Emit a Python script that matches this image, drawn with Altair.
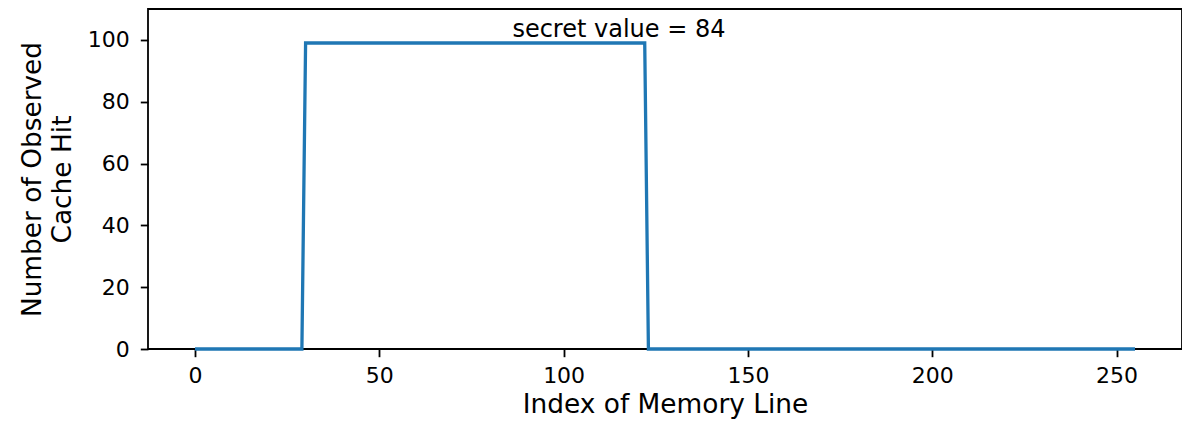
import altair as alt
import pandas as pd

# Breakpoints of the step-shaped curve
index_of_line = [0, 29, 30, 122, 123, 255]
cache_hits = [0, 0, 99, 99, 0, 0]

annot_x = [115]
annot_y = [101]
annot_text = ["secret value = 84"]

x_ticks = [0, 50, 100, 150, 200, 250]
y_ticks = [0, 20, 40, 60, 80, 100]

df = pd.DataFrame({"idx": index_of_line, "hits": cache_hits})
df_t = pd.DataFrame({"x": annot_x, "y": annot_y, "t": annot_text})

FONT = "DejaVu Sans"

xs = alt.Scale(domain=[-12.75, 267.75], nice=False, zero=False)
ys = alt.Scale(domain=[0, 110], nice=False, zero=False)

line = alt.Chart(df).mark_line(color="#1f77b4", strokeWidth=3.3, clip=False).encode(
    x=alt.X("idx:Q", scale=xs,
            axis=alt.Axis(values=x_ticks, title="Index of Memory Line",
                          labelBaseline="alphabetic", labelPadding=26,
                          titleBaseline="alphabetic", titleY=63.5)),
    y=alt.Y("hits:Q", scale=ys,
            axis=alt.Axis(values=y_ticks, title=["Number of Observed", "Cache Hit"],
                          labelPadding=11, titleBaseline="alphabetic",
                          titleLineHeight=29.5, titleX=-107.5, titleY=170,
                          titleAlign="center", titleAngle=270)),
)

text = alt.Chart(df_t).mark_text(
    font=FONT, fontSize=24, color="black", align="center", baseline="alphabetic"
).encode(
    x=alt.X("x:Q", scale=xs),
    y=alt.Y("y:Q", scale=ys),
    text="t:N",
)

chart = (line + text).properties(
    width=1034, height=340,
    autosize=alt.AutoSizeParams(type="none"),
    padding={"left": 140, "top": 1, "right": 0, "bottom": 70},
).configure_view(
    stroke="black", strokeWidth=1.8
).configure_axis(
    grid=False, domain=False,
    tickColor="black", tickWidth=1.8, tickSize=7.7,
    labelFont=FONT, labelFontSize=22, labelColor="black",
    titleFont=FONT, titleFontSize=26.4, titleColor="black", titleFontWeight="normal",
)

chart.save("out.html", embed_options={"renderer": "svg", "actions": False})
